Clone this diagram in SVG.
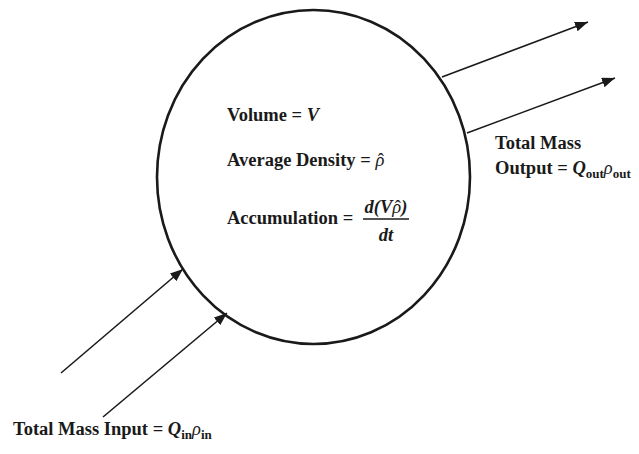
<svg xmlns="http://www.w3.org/2000/svg" width="639" height="454" viewBox="0 0 639 454">
<defs>
<marker id="ah" markerUnits="userSpaceOnUse" markerWidth="13" markerHeight="10" refX="13" refY="5" orient="auto">
<path d="M0,0 L13,5 L0,10 z" fill="#1a1a1a"/>
</marker>
<style>
.t{font-family:"Liberation Serif","Times New Roman",serif;font-size:18.5px;font-weight:bold;fill:#1a1a1a}
.i{font-style:italic}
.r{font-style:italic;font-weight:normal}
.h{font-style:normal;font-weight:normal}
.s{font-size:13px;font-weight:bold;font-style:normal}
.ln{stroke:#1a1a1a;stroke-width:1.6;fill:none}
</style>
</defs>
<rect width="639" height="454" fill="#fff"/>
<g id="volume">
<ellipse cx="313.5" cy="177" rx="156.5" ry="167" fill="none" stroke="#1a1a1a" stroke-width="2.6"/>
<text class="t" x="227" y="121">Volume = <tspan class="i">V</tspan></text>
<text class="t" x="227" y="166">Average Density = <tspan class="r">ρ</tspan><tspan class="h" dx="-6.5">ˆ</tspan></text>
<text class="t" x="227" y="224">Accumulation =</text>
<text class="t i" x="386" y="213" text-anchor="middle">d(V<tspan class="r">ρ</tspan><tspan class="h" dx="-6.5">ˆ</tspan><tspan dx="0.5">)</tspan></text>
<line x1="363" y1="219" x2="409" y2="219" stroke="#1a1a1a" stroke-width="1.3"/>
<text class="t i" x="386" y="241" text-anchor="middle">dt</text>
</g>
<g id="output-label">
<text class="t" x="495" y="149">Total Mass</text>
<text class="t" x="495" y="174">Output = <tspan class="i">Q</tspan><tspan class="s" dy="4">out</tspan><tspan class="r" dy="-4">ρ</tspan><tspan class="s" dy="4">out</tspan></text>
</g>
<g id="input-label">
<text class="t" x="13" y="435">Total Mass Input = <tspan class="i">Q</tspan><tspan class="s" dy="4">in</tspan><tspan class="r" dy="-4">ρ</tspan><tspan class="s" dy="4">in</tspan></text>
</g>
<g id="connectors">
<line class="ln" x1="442" y1="77" x2="588" y2="22" marker-end="url(#ah)"/>
<line class="ln" x1="467" y1="133" x2="615" y2="78" marker-end="url(#ah)"/>
<line class="ln" x1="61" y1="373" x2="183" y2="269" marker-end="url(#ah)"/>
<line class="ln" x1="103" y1="417" x2="227" y2="313" marker-end="url(#ah)"/>
</g>
</svg>
